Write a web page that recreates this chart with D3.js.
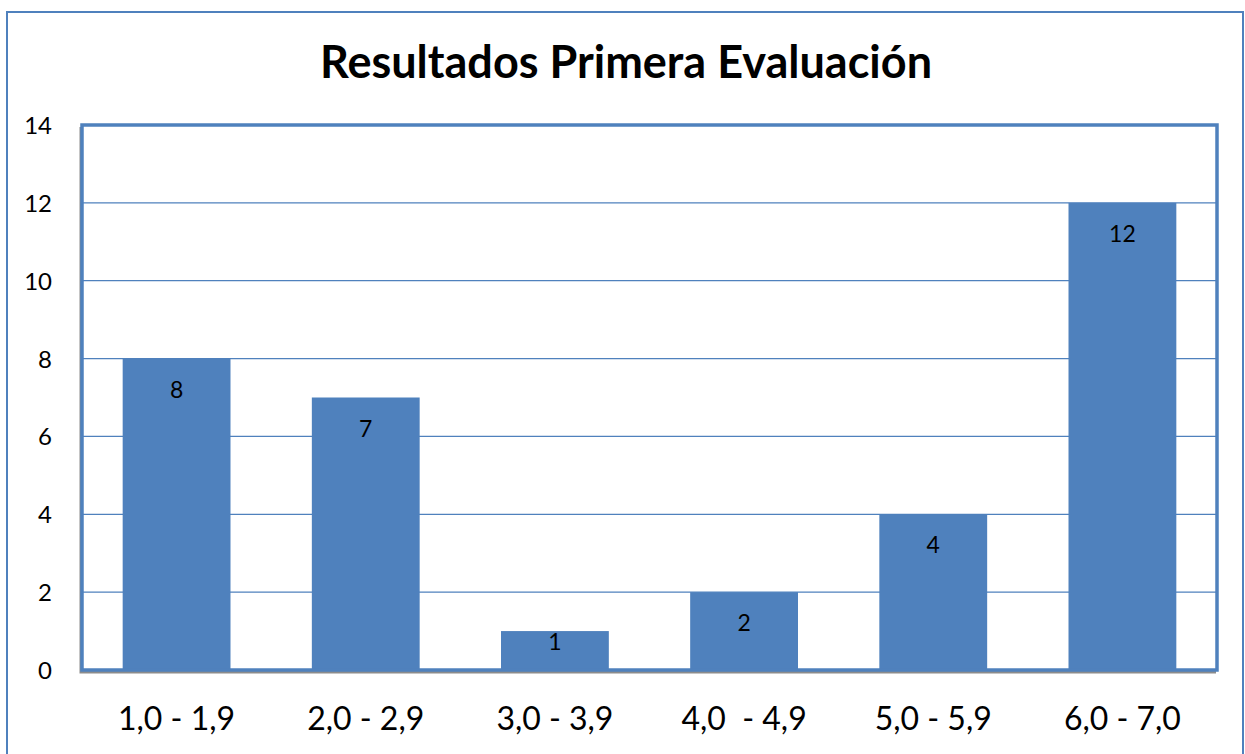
<!DOCTYPE html>
<meta charset="utf-8">
<title>Resultados Primera Evaluación</title>
<style>
  body { margin: 0; background: #fff; }
  text { font-family: Lato, "Open Sans", sans-serif; }
</style>
<div id="viz"></div>
<script src="https://cdnjs.cloudflare.com/ajax/libs/d3/7.8.5/d3.min.js"></script>
<script>

var categories = ["1,0 - 1,9", "2,0 - 2,9", "3,0 - 3,9", "4,0  - 4,9", "5,0 - 5,9", "6,0 - 7,0"];
var values = [8, 7, 1, 2, 4, 12];
var yTicks = [0, 2, 4, 6, 8, 10, 12, 14];
var title = "Resultados Primera Evaluación";

var width = 1245;
var height = 754;
var blue = "#4f81bd";

var svg = d3.select("#viz")
  .append("svg")
  .attr("width", width)
  .attr("height", height);

// outer chart border (runs off the bottom / right of the picture)
svg.append("rect")
  .attr("x", 7)
  .attr("y", 12)
  .attr("width", 1236)
  .attr("height", 760)
  .attr("fill", "none")
  .attr("stroke", blue)
  .attr("stroke-width", 2);

// plot area bounds (note: "top" is taken by window.top)
var pLeft = 82, pRight = 1217, pTop = 125, pBottom = 670;

var x = d3.scaleBand()
  .domain(categories)
  .range([pLeft, pRight])
  .paddingInner(0.43)
  .paddingOuter(0.215);

var y = d3.scaleLinear()
  .domain([0, 14])
  .range([pBottom, pTop]);

// gridlines
svg.append("g")
  .selectAll("line")
  .data(yTicks)
  .join("line")
  .attr("x1", pLeft)
  .attr("x2", pRight)
  .attr("y1", d => y(d))
  .attr("y2", d => y(d))
  .attr("stroke", blue)
  .attr("stroke-width", 1.2);

// bars
svg.append("g")
  .selectAll("rect")
  .data(values)
  .join("rect")
  .attr("x", (d, i) => x(categories[i]))
  .attr("y", d => y(d))
  .attr("width", x.bandwidth())
  .attr("height", d => y(0) - y(d))
  .attr("fill", blue);

// value labels, inside end; short bars push the label down less
svg.append("g")
  .selectAll("text")
  .data(values)
  .join("text")
  .attr("x", (d, i) => x(categories[i]) + x.bandwidth() / 2)
  .attr("y", d => Math.min(y(d) + 39, y(0) - 20))
  .attr("text-anchor", "middle")
  .attr("font-size", 23)
  .attr("fill", "#000")
  .text(d => d);

// plot frame with a little gray shadow
svg.append("path")
  .attr("d", "M" + (pLeft - 1) + "," + (pTop + 2) + "V" + (pBottom + 2) + "H" + (pRight - 1))
  .attr("fill", "none")
  .attr("stroke", "#8c8c8c")
  .attr("stroke-width", 3);
svg.append("rect")
  .attr("x", pLeft)
  .attr("y", pTop)
  .attr("width", pRight - pLeft)
  .attr("height", pBottom - pTop)
  .attr("fill", "none")
  .attr("stroke", blue)
  .attr("stroke-width", 3.5);

// y axis labels
svg.append("g")
  .selectAll("text")
  .data(yTicks)
  .join("text")
  .attr("x", 52)
  .attr("y", d => y(d) + 9)
  .attr("text-anchor", "end")
  .attr("font-size", 24)
  .attr("fill", "#000")
  .text(d => d);

// category labels
svg.append("g")
  .selectAll("text")
  .data(categories)
  .join("text")
  .attr("x", d => x(d) + x.bandwidth() / 2)
  .attr("y", 730)
  .attr("text-anchor", "middle")
  .attr("font-size", 32)
  .attr("fill", "#000")
  .style("white-space", "pre")
  .text(d => d);

// title
svg.append("text")
  .attr("x", 626)
  .attr("y", 78)
  .attr("text-anchor", "middle")
  .attr("font-size", 45)
  .attr("font-weight", "bold")
  .attr("fill", "#000")
  .text(title);

</script>
